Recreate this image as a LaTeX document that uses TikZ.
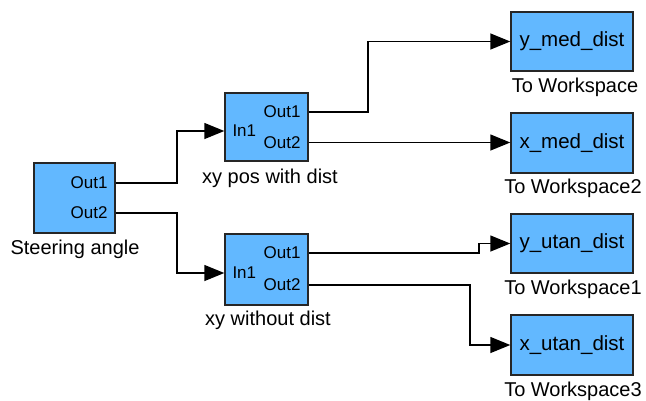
\documentclass[tikz,border=0pt]{standalone}
\usepackage{fontspec}
\setmainfont{Liberation Sans}
\usetikzlibrary{arrows.meta,calc}
\definecolor{blk}{RGB}{98,184,255}
\tikzset{
  blockbox/.style={draw=black!85,line width=1.4pt,fill=blk,inner sep=0pt},
  wire/.style={line width=1.4pt,draw=black},
  arr/.style={wire,-{Triangle[length=20pt,width=16pt]}},
  lbl/.style={font=\fontsize{20}{22}\selectfont,inner sep=0pt,anchor=center},
  port/.style={font=\fontsize{17}{19}\selectfont,inner sep=0pt},
  wstext/.style={font=\fontsize{20.5}{22}\selectfont,inner sep=0pt}
}
\begin{document}
\begin{tikzpicture}[x=1pt,y=-1pt]
\useasboundingbox (0,0) rectangle (646,400);
% blocks
\node[blockbox,minimum width=81pt,minimum height=70pt] (sa) at (74.5,198) {};
\node[blockbox,minimum width=83pt,minimum height=68pt] (pos) at (266.5,127) {};
\node[blockbox,minimum width=83pt,minimum height=71pt] (wo) at (266.5,269.5) {};
\node[blockbox,minimum width=122pt,minimum height=59pt] (tw) at (572,41.5) {};
\node[blockbox,minimum width=122pt,minimum height=60pt] (tw2) at (572,143) {};
\node[blockbox,minimum width=122pt,minimum height=59pt] (tw1) at (572,243.5) {};
\node[blockbox,minimum width=122pt,minimum height=60pt] (tw3) at (572,345) {};
% block texts
\node[wstext] (t0) at (tw) {y\_med\_dist};
\node[wstext] (t2) at (tw2) {x\_med\_dist};
\node[wstext] (t1) at (tw1) {y\_utan\_dist};
\node[wstext] (t3) at (tw3) {x\_utan\_dist};
% labels
\node[lbl] (lsa) at (75,249) {Steering angle};
\node[lbl] (lpos) at (270,178) {xy pos with dist};
\node[lbl] (lwo) at (268,320) {xy without dist};
\node[lbl] (ltw) at (575,87) {To Workspace};
\node[lbl] (ltw2) at (573,188) {To Workspace2};
\node[lbl] (ltw1) at (573,289) {To Workspace1};
\node[lbl] (ltw3) at (573,391) {To Workspace3};
% port coordinates
\coordinate (sao1) at (sa.east |- 0,183);
\coordinate (sao2) at (sa.east |- 0,213);
\coordinate (posin) at (pos.west |- 0,131);
\coordinate (poso1) at (pos.east |- 0,112);
\coordinate (poso2) at (pos.east |- 0,142.5);
\coordinate (woin) at (wo.west |- 0,273);
\coordinate (woo1) at (wo.east |- 0,253);
\coordinate (woo2) at (wo.east |- 0,285);
\coordinate (twin) at (tw.west);
\coordinate (tw2in) at (tw2.west |- poso2);
\coordinate (tw1in) at (tw1.west);
\coordinate (tw3in) at (tw3.west);
% port labels
\node[port,anchor=east] (p1) at ($(sao1)+(-8,0)$) {Out1};
\node[port,anchor=east] (p2) at ($(sao2)+(-8,0)$) {Out2};
\node[port,anchor=west] (p3) at ($(posin)+(8,0)$) {In1};
\node[port,anchor=east] (p4) at ($(poso1)+(-8,0)$) {Out1};
\node[port,anchor=east] (p5) at ($(poso2)+(-8,0)$) {Out2};
\node[port,anchor=west] (p6) at ($(woin)+(8,0)$) {In1};
\node[port,anchor=east] (p7) at ($(woo1)+(-8,0)$) {Out1};
\node[port,anchor=east] (p8) at ($(woo2)+(-8,0)$) {Out2};
% wires
\draw[arr] (sao1) -- (177,183) |- (posin);
\draw[arr] (sao2) -- (177,213) |- (woin);
\draw[arr] (poso1) -- (368,112) |- (twin);
\draw[arr] (poso2) -- (tw2in);
\draw[arr] (woo1) -- (479,253) |- (tw1in);
\draw[arr] (woo2) -- (470,285) |- (tw3in);
\end{tikzpicture}
\end{document}
